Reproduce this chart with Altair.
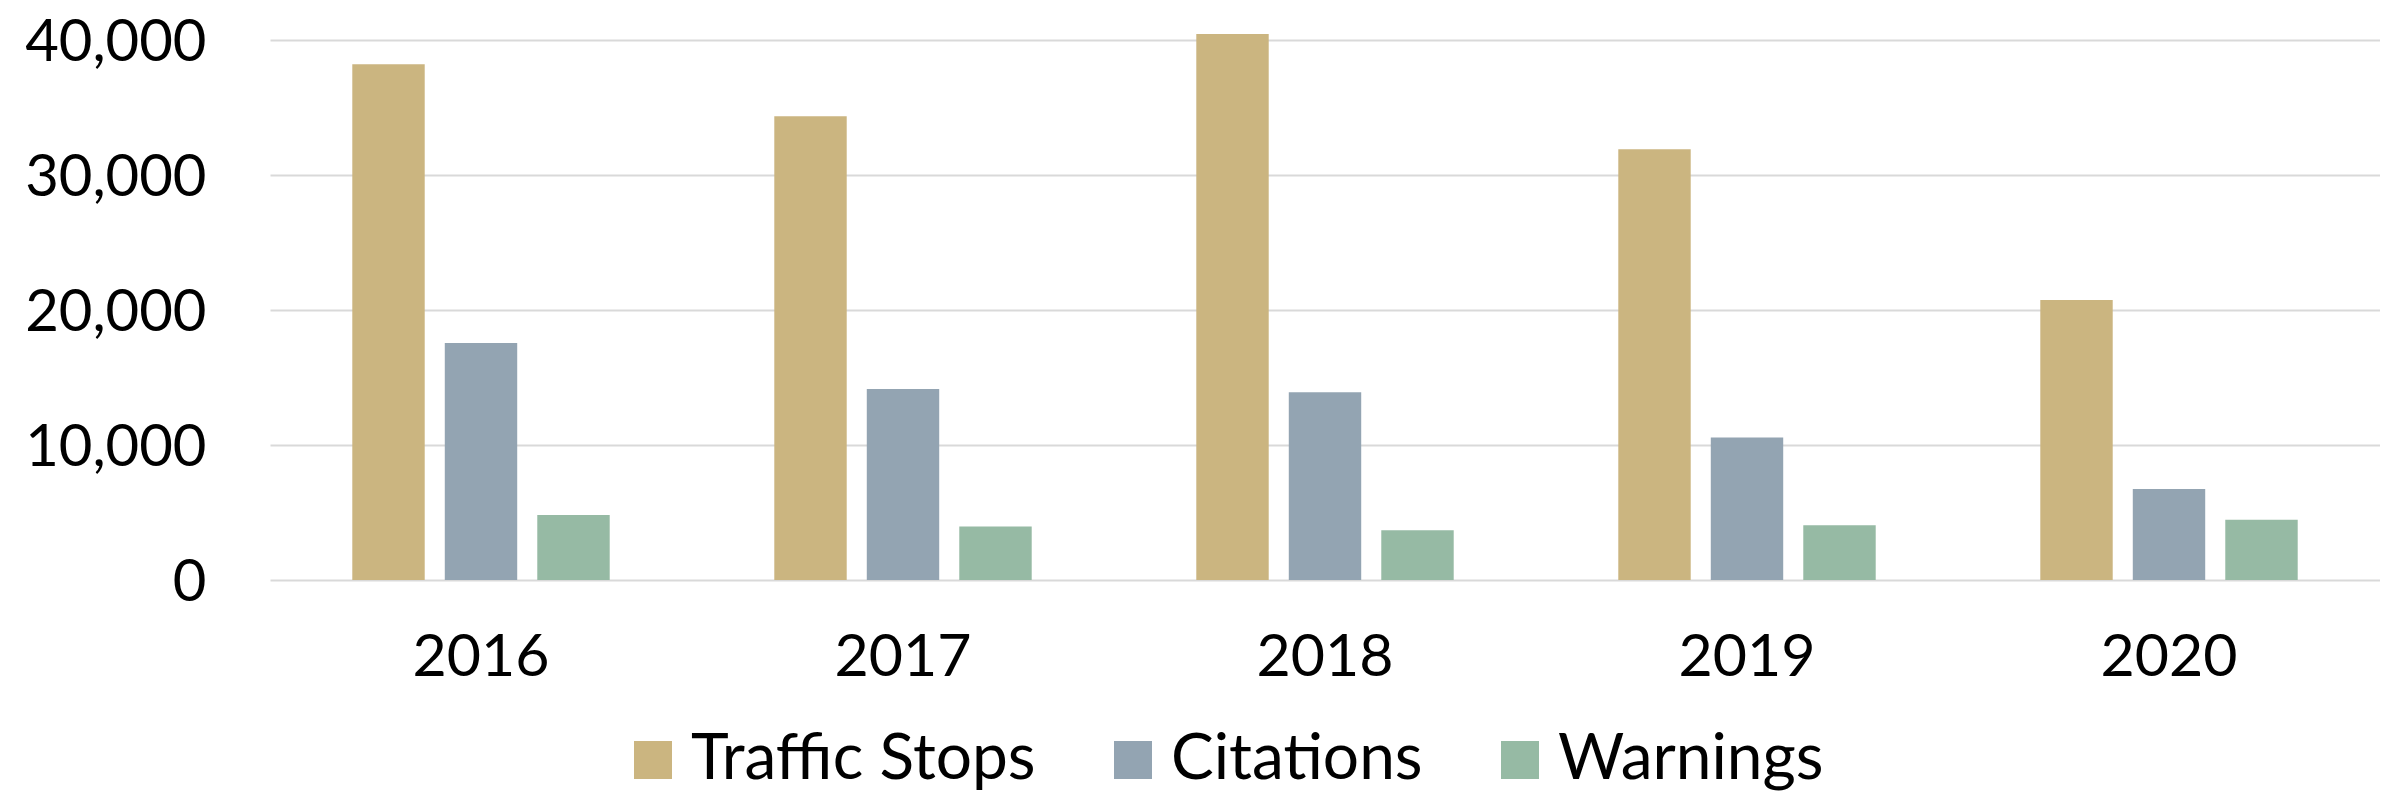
import altair as alt
import pandas as pd

years = ["2016", "2017", "2018", "2019", "2020"]
series = ["Traffic Stops", "Citations", "Warnings"]
traffic_stops = [38200, 34350, 40450, 31900, 20750]
citations = [17550, 14150, 13900, 10550, 6750]
warnings = [4820, 3970, 3680, 4050, 4460]
colors = ["#CBB580", "#93A4B2", "#96BAA4"]

rows = []
for name, vals in zip(series, [traffic_stops, citations, warnings]):
    for yr, v in zip(years, vals):
        rows.append({"Year": yr, "Series": name, "Value": v})
df = pd.DataFrame(rows)

FONT = "Lato"

chart = alt.Chart(df).mark_bar().encode(
    x=alt.X("Year:N", sort=years,
            scale=alt.Scale(paddingInner=0.39, paddingOuter=0.195),
            axis=alt.Axis(title=None, labelAngle=0, domain=False, ticks=False,
                          labelFontSize=59, labelFont=FONT, labelColor="#000000",
                          labelPadding=48, labelBaseline="top", labelLimit=0)),
    xOffset=alt.XOffset("Series:N", sort=series,
                        scale=alt.Scale(paddingInner=0.217, paddingOuter=0)),
    y=alt.Y("Value:Q",
            scale=alt.Scale(domain=[0, 40000], nice=False, clamp=False),
            axis=alt.Axis(title=None, values=[0, 10000, 20000, 30000, 40000],
                          format=",d", domain=False, ticks=False,
                          labelFontSize=58, labelFont=FONT, labelColor="#000000",
                          labelPadding=64, labelLimit=0, labelOffset=3,
                          gridColor="#D9D9D9", gridWidth=2)),
    color=alt.Color("Series:N", sort=series,
                    scale=alt.Scale(domain=series, range=colors),
                    legend=alt.Legend(title=None, orient="none", direction="horizontal",
                                      legendX=351, legendY=688,
                                      symbolType="square", symbolSize=1444,
                                      symbolStrokeWidth=0, labelFontSize=64,
                                      labelFont=FONT, labelColor="#000000",
                                      labelOffset=6, columnPadding=65,
                                      labelLimit=0, padding=0)),
).properties(
    width=2110,
    height=540,
    autosize=alt.AutoSizeParams(type="none"),
    padding={"left": 262, "top": 32, "right": 0, "bottom": 216},
).configure_view(stroke=None)

chart.save("out.html", embed_options={"renderer": "svg", "actions": False})
